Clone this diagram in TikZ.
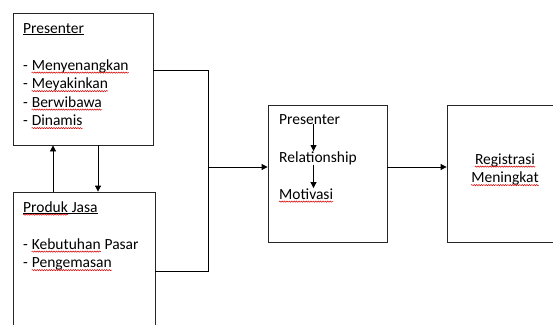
\documentclass[tikz,border=0pt]{standalone}
\usepackage{fontspec}
\setmainfont{Carlito}
\usetikzlibrary{arrows.meta,decorations.pathmorphing}
\tikzset{
  boxnode/.style={draw=black!85, line width=0.8pt, inner sep=0pt},
  txt/.style={inner sep=0pt, anchor=base west, font=\fontsize{15.5}{18.5}\selectfont},
  ctxt/.style={inner sep=0pt, anchor=base, font=\fontsize{15.5}{18.5}\selectfont},
  conn/.style={draw=black, line width=0.8pt},
  arr/.style={conn, -{Triangle[length=6pt,width=6pt]}},
  wave/.style={draw=red!85!black, line width=0.5pt, decorate,
    decoration={snake, amplitude=0.6pt, segment length=2.4pt}},
  uline/.style={draw=black, line width=0.7pt}
}
\newcommand\wavyline[1]{\draw[wave] ([yshift=-2.6pt]#1.base west) -- ([yshift=-2.6pt]#1.base east);}
\begin{document}
\begin{tikzpicture}[x=1pt,y=-1pt]
\useasboundingbox (0,0) rectangle (553,324);
\clip (0,0) rectangle (553,324);
% boxes
\node[boxnode, minimum width=140pt, minimum height=132pt] (box1) at (83,79) {};
\node[boxnode, minimum width=142pt, minimum height=148pt] (box2) at (84,266) {};
\node[boxnode, minimum width=119pt, minimum height=137pt] (box3) at (327.5,173.5) {};
\node[boxnode, minimum width=116pt, minimum height=137pt] (box4) at (505,173.5) {};
% box1 text
\node[txt] (p1t) at (23,33) {Presenter};
\draw[uline] ([yshift=-1.6pt]p1t.base west) -- ([yshift=-1.6pt]p1t.base east);
\node[txt] (d1a) at (23,70) {-};
\node[txt] (p1a) at ([xshift=3.5pt]d1a.base east) {Menyenangkan};
\node[txt] (d1b) at (23,88.5) {-};
\node[txt] (p1b) at ([xshift=3.5pt]d1b.base east) {Meyakinkan};
\node[txt] (d1c) at (23,107) {-};
\node[txt] (p1c) at ([xshift=3.5pt]d1c.base east) {Berwibawa};
\node[txt] (d1d) at (23,125.5) {-};
\node[txt] (p1d) at ([xshift=3.5pt]d1d.base east) {Dinamis};
\wavyline{p1a}\wavyline{p1b}\wavyline{p1c}\wavyline{p1d}
% box2 text
\node[txt] (p2t) at (23,212) {Produk};
\node[txt] (p2u) at ([xshift=3.5pt]p2t.base east) {Jasa};
\wavyline{p2t}
\draw[uline] ([yshift=-1.6pt]p2t.base west) -- ([yshift=-1.6pt]p2u.base east);
\node[txt] (d2a) at (23,249) {-};
\node[txt] (p2a) at ([xshift=3.5pt]d2a.base east) {Kebutuhan};
\node[txt] (p2c) at ([xshift=3.5pt]p2a.base east) {Pasar};
\node[txt] (d2b) at (23,267.5) {-};
\node[txt] (p2b) at ([xshift=3.5pt]d2b.base east) {Pengemasan};
\wavyline{p2a}\wavyline{p2b}
% box3 text
\node[txt] (m1) at (279,124) {Presenter};
\node[txt] (m2) at (279,162) {Relationship};
\node[txt] (m3) at (279,199) {Motivasi};
\wavyline{m3}
\coordinate (ax) at (313.5,0);
\draw[arr] (m1.south -| ax) -- (m2.north -| ax);
\draw[arr] (m2.south -| ax) -- (m3.north -| ax);
% box4 text
\node[ctxt] (r1) at (505,164) {Registrasi};
\node[ctxt] (r2) at (505,182.5) {Meningkat};
\wavyline{r1}\wavyline{r2}
% connectors
\coordinate (t) at (208,70);
\coordinate (b) at (208,271);
\coordinate (j) at (208,167);
\draw[conn] (box1.east |- t) -- (t) -- (b) -- (box2.east |- b);
\draw[arr] (j) -- (box3.west |- j);
\draw[arr] (box3.east |- j) -- (box4.west |- j);
\coordinate (u) at (53,0);
\coordinate (d) at (98,0);
\draw[arr] (box2.north -| u) -- (box1.south -| u);
\draw[arr] (box1.south -| d) -- (box2.north -| d);
\end{tikzpicture}
\end{document}
